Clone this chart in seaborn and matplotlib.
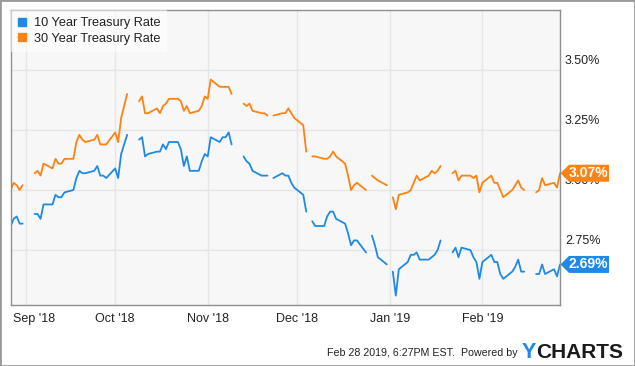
import numpy as np
import pandas as pd
import matplotlib
matplotlib.use("Agg")
import matplotlib.pyplot as plt
import matplotlib.dates as mdates
import matplotlib.transforms as mtransforms
from matplotlib.patches import Polygon, Rectangle
from matplotlib.lines import Line2D
import seaborn as sns

# ---------------- data ----------------
series_names = ["10 Year Treasury Rate", "30 Year Treasury Rate"]
series_colors = ["#1f8ae6", "#fb8313"]
start_date = "2018-08-27"
end_date = "2019-02-27"

# one value per business day; None = bond-market holiday (line breaks)
ten_year = [
    2.85, 2.88, 2.89, 2.86, 2.86,  # Aug
    None, 2.90, 2.90, 2.88, 2.94, 2.94, 2.98, 2.97, 2.97, 2.99,
    3.00, 3.05, 3.08, 3.07, 3.07, 3.08, 3.10, 3.06, 3.06, 3.05,  # Sep
    3.09, 3.05, 3.15, 3.19, 3.23, None, 3.21, 3.22, 3.14, 3.15, 3.16, 3.16,
    3.19, 3.17, 3.20, 3.20, 3.17, 3.10, 3.14, 3.08, 3.08, 3.12, 3.15,  # Oct
    3.14, 3.22, 3.20, 3.22, 3.22, 3.24, 3.19, None, 3.14, 3.12, 3.11,
    3.08, 3.06, 3.06, 3.06, None, 3.05, 3.07, 3.06, 3.06, 3.03, 3.01,  # Nov
    2.98, 2.91, None, 2.87, 2.85, 2.85, 2.89, 2.91, 2.91, 2.88, 2.86,
    2.82, 2.77, 2.79, 2.79, 2.74, None, 2.81, 2.77, 2.72, 2.69,  # Dec
    None, 2.66, 2.56, 2.67, 2.70, 2.73, 2.73, 2.74, 2.71, 2.71, 2.72, 2.73,
    2.75, 2.79, None, 2.74, 2.76, 2.72, 2.76, 2.75, 2.72, 2.70, 2.63,  # Jan
    2.70, 2.73, 2.70, 2.70, 2.65, 2.63, 2.66, 2.68, 2.71, 2.66, 2.66,
    None, 2.65, 2.65, 2.69, 2.65, 2.67, 2.64, 2.69,  # Feb
]
thirty_year = [
    3.00, 3.03, 3.02, 3.00, 3.02,  # Aug
    None, 3.07, 3.08, 3.06, 3.11, 3.09, 3.13, 3.11, 3.11, 3.13,
    3.13, 3.20, 3.23, 3.21, 3.20, 3.21, 3.23, 3.19, 3.19, 3.19,  # Sep
    3.24, 3.20, 3.30, 3.35, 3.40, None, 3.37, 3.39, 3.32, 3.32, 3.34, 3.32,
    3.35, 3.36, 3.38, 3.38, 3.37, 3.33, 3.35, 3.32, 3.33, 3.35, 3.39,  # Oct
    3.38, 3.46, 3.43, 3.43, 3.43, 3.43, 3.40, None, 3.36, 3.35, 3.36,
    3.33, 3.32, 3.32, 3.31, None, 3.31, 3.32, 3.32, 3.34, 3.32, 3.30,  # Nov
    3.27, 3.16, None, 3.14, 3.14, 3.13, 3.13, 3.14, 3.16, 3.14, 3.11,
    3.06, 3.00, 3.02, 3.03, 3.00, None, 3.06, 3.05, 3.04, 3.02,  # Dec
    None, 2.97, 2.92, 2.98, 2.99, 3.00, 3.03, 3.06, 3.04, 3.06, 3.08, 3.07,
    3.08, 3.10, None, 3.07, 3.08, 3.04, 3.06, 3.06, 3.05, 3.06, 2.99,  # Jan
    3.03, 3.06, 3.03, 3.03, 3.00, 2.97, 3.00, 3.02, 3.04, 3.01, 3.00,
    None, 2.99, 3.00, 3.05, 3.02, 3.03, 3.01, 3.07,  # Feb
]

month_ticks = ["2018-09-01", "2018-10-01", "2018-11-01", "2018-12-01", "2019-01-01", "2019-02-01"]
month_labels = ["Sep '18", "Oct '18", "Nov '18", "Dec '18", "Jan '19", "Feb '19"]
y_ticks = [2.75, 3.00, 3.25, 3.50]
y_labels = ["2.75%", "3.00%", "3.25%", "3.50%"]
footer_text = "Feb 28 2019, 6:27PM EST.  Powered by"

# ---------------- frame ----------------
dates = pd.bdate_range(start_date, end_date)
frames = []
for name, vals in zip(series_names, [ten_year, thirty_year]):
    s = pd.Series(vals, index=dates, dtype=float)
    seg = s.isna().cumsum()
    d = pd.DataFrame({"date": dates, "rate": s.values, "series": name, "seg": seg.values})
    frames.append(d.dropna())
df = pd.concat(frames, ignore_index=True)

sns.set_theme(style="white")
plt.rcParams["font.family"] = ["Liberation Sans", "DejaVu Sans"]

W, H = 635, 366
fig = plt.figure(figsize=(W / 100, H / 100), dpi=100)
fig.patch.set_facecolor("white")
L, R, T, B = 10.7, 560.0, 10.0, 305.0
ax = fig.add_axes([L / W, 1 - B / H, (R - L) / W, (B - T) / H])
ax.set_facecolor("#f7f7f7")

palette = dict(zip(series_names, series_colors))
sns.lineplot(data=df, x="date", y="rate", hue="series", units="seg", estimator=None,
             palette=palette, linewidth=1.3, ax=ax, legend=False)

ax.set_xlim(mdates.date2num(pd.Timestamp(start_date)), mdates.date2num(pd.Timestamp(end_date)))
ax.set_ylim(2.521, 3.75)
ax.set_xlabel("")
ax.set_ylabel("")

ax.set_xticks([mdates.date2num(pd.Timestamp(d)) for d in month_ticks])
ax.set_xticklabels(month_labels)
ax.yaxis.tick_right()
ax.set_yticks(y_ticks)
ax.set_yticklabels(y_labels)
ax.tick_params(axis="both", length=0, labelsize=9, colors="#222222")
ax.tick_params(axis="x", pad=6)
ax.tick_params(axis="y", pad=3.5)
ax.grid(True, color="#e6e6e6", linewidth=1)
ax.set_axisbelow(True)
for sp in ax.spines.values():
    sp.set_color("#8f8f8f")
    sp.set_linewidth(1)

# shift labels like the original
for lbl in ax.get_yticklabels():
    lbl.set_verticalalignment("center")
    lbl.set_transform(lbl.get_transform() + mtransforms.ScaledTranslation(0, 9.5 / 100, fig.dpi_scale_trans))
first = ax.get_xticklabels()[0]
first.set_transform(first.get_transform() + mtransforms.ScaledTranslation(8.5 / 100, 0, fig.dpi_scale_trans))

# legend
handles = [Line2D([], [], marker="s", linestyle="", color=c, markersize=6.3) for c in series_colors]
leg = ax.legend(handles, series_names, loc="upper left", bbox_to_anchor=(L / W, 1 - T / H),
                bbox_transform=fig.transFigure, frameon=True, fancybox=False, framealpha=0.55,
                facecolor="white", edgecolor="none", fontsize=9.2, handlelength=0.7,
                handletextpad=0.55, labelspacing=0.3, borderpad=0.55, borderaxespad=0)
for t in leg.get_texts():
    t.set_color("#222222")

# end-value tags
fig.canvas.draw()
for vals, color in zip([ten_year, thirty_year], series_colors):
    last = [v for v in vals if v is not None][-1]
    x0, y0 = ax.transData.transform((mdates.date2num(dates[-1]), last))
    x0 = ax.transAxes.transform((1, 0))[0]
    h = 8.5
    poly = Polygon([(x0 + 0.5, y0), (x0 + 9, y0 + h), (x0 + 49, y0 + h), (x0 + 49, y0 - h), (x0 + 9, y0 - h)],
                   closed=True, facecolor=color, edgecolor="none",
                   transform=mtransforms.IdentityTransform(), zorder=10)
    fig.add_artist(poly)
    fig.text((x0 + 28.5) / W, y0 / H, f"{last:.2f}%", color="white", fontsize=10,
             fontweight="bold", ha="center", va="center", zorder=11)

# footer
fig.text(518 / W, 1 - 353 / H, footer_text, ha="right", va="center", fontsize=7.7, color="#222222")
fig.text(522 / W, 1 - 358 / H, "Y", ha="left", va="baseline", fontsize=15.5, fontweight="bold", color="#1f8ae6")
fig.text(536 / W, 1 - 358 / H, "CHARTS", ha="left", va="baseline", fontsize=15, fontweight="bold", color="#1a1a1a")

# outer border
fig.add_artist(Rectangle((0, 0), 1, 1, transform=fig.transFigure, fill=False, edgecolor="#9a9a9a", linewidth=2))

fig.savefig("out.png", dpi=100)
